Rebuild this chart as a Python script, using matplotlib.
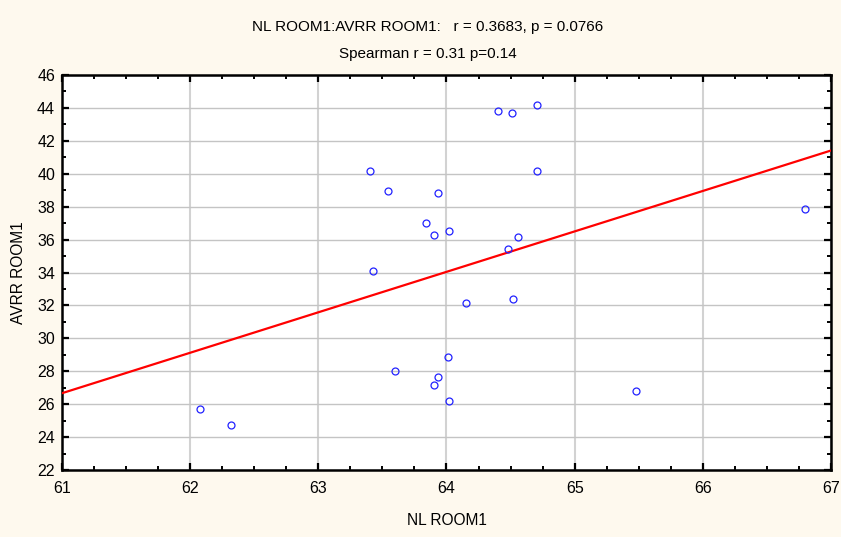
import numpy as np
import matplotlib
matplotlib.use("Agg")
import matplotlib.pyplot as plt
from matplotlib.ticker import MultipleLocator

plt.rcParams['font.family'] = ['Liberation Sans', 'DejaVu Sans']

nl_room1 = [62.08, 62.32, 63.40, 63.54, 63.93, 63.84, 63.90, 64.02, 63.43,
            64.40, 64.51, 64.71, 64.71, 64.56, 64.48, 64.15, 64.52, 64.01,
            63.60, 63.93, 63.90, 64.02, 65.48, 66.80]
avrr_room1 = [25.71, 24.74, 40.15, 38.93, 38.81, 36.99, 36.26, 36.50, 34.07,
              43.79, 43.67, 44.16, 40.15, 36.14, 35.41, 32.13, 32.37, 28.85,
              28.02, 27.65, 27.15, 26.18, 26.78, 37.84]

title1 = "NL ROOM1:AVRR ROOM1:   r = 0.3683, p = 0.0766"
title2 = "Spearman r = 0.31 p=0.14"
xlabel = "NL ROOM1"
ylabel = "AVRR ROOM1"

bg = '#FEF9EE'
fig = plt.figure(figsize=(8.41, 5.37), dpi=100, facecolor=bg)
ax = fig.add_axes([62/841, 67/537, 769/841, 395/537])
ax.set_facecolor('white')

x = np.array(nl_room1)
y = np.array(avrr_room1)
slope, intercept = np.polyfit(x, y, 1)
xl = np.array([61, 67])
ax.plot(xl, intercept + slope * xl, color='#FF0000', lw=1.6, zorder=3)
ax.plot(x, y, linestyle='none', marker='o', markersize=5.0, markerfacecolor='none',
        markeredgecolor='#2222FF', markeredgewidth=0.9, zorder=4)

ax.set_xlim(61, 67)
ax.set_ylim(22, 46)
ax.xaxis.set_major_locator(MultipleLocator(1))
ax.xaxis.set_minor_locator(MultipleLocator(0.25))
ax.yaxis.set_major_locator(MultipleLocator(2))
ax.yaxis.set_minor_locator(MultipleLocator(1))
ax.grid(True, axis='y', which='major', color='#C4C4C4', lw=1.0, zorder=0)
ax.grid(True, axis='x', which='major', color='#D2D2D2', lw=1.5, zorder=0)
ax.tick_params(which='both', direction='in', top=True, right=True,
               labelsize=11.5, color='black')
ax.tick_params(axis='x', pad=8)
ax.tick_params(axis='y', pad=5)
ax.tick_params(which='major', length=5, width=1.6)
ax.tick_params(which='minor', length=3, width=1.4)
for s in ax.spines.values():
    s.set_linewidth(1.8)
    s.set_color('black')

ax.set_xlabel(xlabel, fontsize=11.2, labelpad=12)
ax.set_ylabel(ylabel, fontsize=11.2, labelpad=8)
fig.text(428/841, 1 - 27/537, title1, ha='center', va='center', fontsize=11)
fig.text(428/841, 1 - 54/537, title2, ha='center', va='center', fontsize=11)

fig.savefig('out.png', dpi=100, facecolor=bg)
